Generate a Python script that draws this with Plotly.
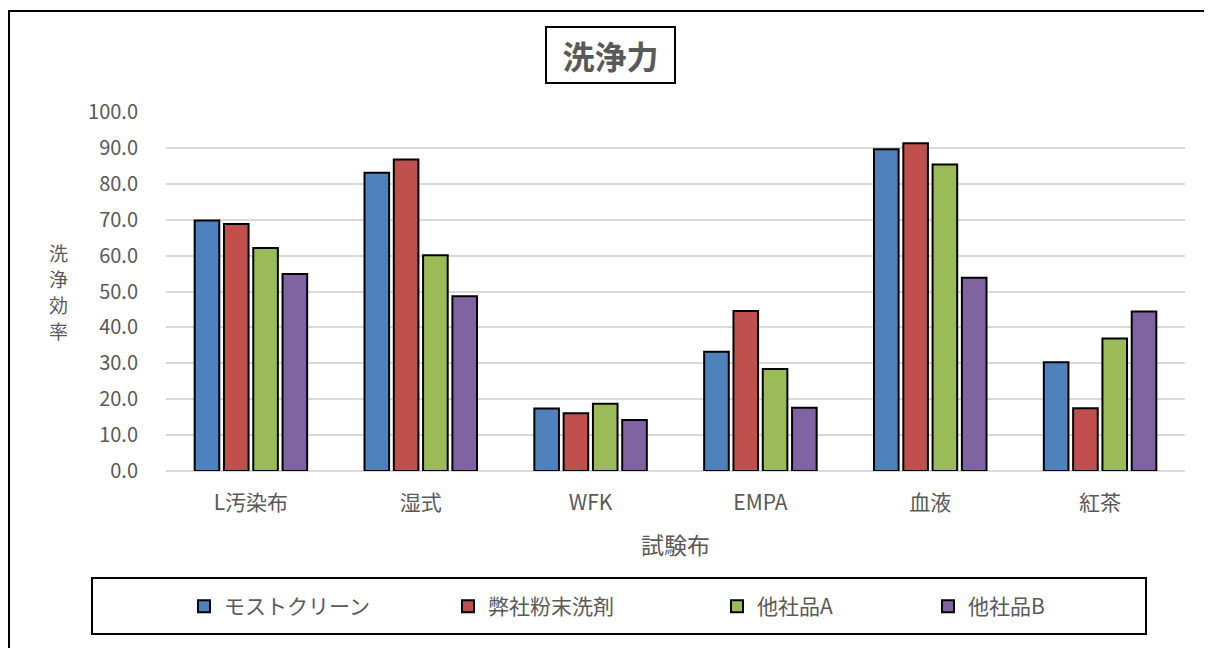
import plotly.graph_objects as go

categories = ["L汚染布", "湿式", "WFK", "EMPA", "血液", "紅茶"]
series_names = ["モストクリーン", "弊社粉末洗剤", "他社品A", "他社品B"]
most_clean = [69.8, 83.1, 17.4, 33.2, 89.6, 30.3]
heisha = [68.8, 86.8, 16.1, 44.6, 91.3, 17.5]
tasha_a = [62.1, 60.1, 18.7, 28.4, 85.4, 36.9]
tasha_b = [54.9, 48.7, 14.2, 17.6, 53.8, 44.4]
values = [most_clean, heisha, tasha_a, tasha_b]
colors = ["#4F81BD", "#C0504D", "#9BBB59", "#8064A2"]
y_ticks = [0, 10, 20, 30, 40, 50, 60, 70, 80, 90, 100]

# page has an 8px body margin: figure pixel = page pixel - OFF
OFF = 8
W, H = 1204, 640
# plot area in page pixels
PX0, PX1, PY0, PY1 = 166, 1185, 112, 471
L = PX0 - OFF
R = W - (PX1 - OFF)
T = PY0 - OFF
B = H - (PY1 - OFF)
pw = PX1 - PX0
ph = PY1 - PY0


def px(x):
    return (x - PX0) / pw


def py(y):
    return (PY1 - y) / ph


FONT = "Noto Sans CJK JP, Noto Sans, sans-serif"
GREY = "#595959"

legend_names = ["legend", "legend2", "legend3", "legend4"]
legend_square_x = [205, 469, 738, 949]

fig = go.Figure()
for name, vals, col, lg in zip(series_names, values, colors, legend_names):
    fig.add_trace(go.Bar(
        name=name, x=categories, y=vals, legend=lg,
        marker=dict(color=col, line=dict(color="black", width=2)),
    ))

legend_layouts = {}
for lg, sx in zip(legend_names, legend_square_x):
    legend_layouts[lg] = dict(
        orientation="h", xref="container", yref="container",
        x=(sx - 21 - OFF) / W, y=1 - (606.5 - OFF) / H,
        xanchor="left", yanchor="middle",
        font=dict(size=21, color=GREY, family=FONT),
        itemwidth=30, borderwidth=0, bgcolor="rgba(0,0,0,0)",
    )

fig.update_layout(
    width=W, height=H,
    margin=dict(l=L, r=R, t=T, b=B, pad=0),
    paper_bgcolor="white", plot_bgcolor="white",
    barmode="group", bargap=0.31, bargroupgap=0.16,
    font=dict(family=FONT, color=GREY, size=18),
    showlegend=True,
    xaxis=dict(
        showgrid=False, showline=False, ticks="",
        tickfont=dict(size=21, color=GREY),
        ticklabelstandoff=17,
    ),
    yaxis=dict(
        range=[0, 100], tickvals=y_ticks, tickformat=".1f",
        showgrid=True, gridcolor="#D9D9D9", gridwidth=2,
        zeroline=True, zerolinecolor="#D9D9D9", zerolinewidth=2,
        showline=False, ticks="", ticklabelstandoff=27,
        tickfont=dict(size=20, color=GREY),
    ),
    **legend_layouts,
)

# outer chart border
fig.add_shape(type="rect", xref="paper", yref="paper",
              x0=px(9), x1=px(1240), y0=py(11), y1=py(700),
              line=dict(color="black", width=2), layer="above")
# legend border
fig.add_shape(type="rect", xref="paper", yref="paper",
              x0=px(92), x1=px(1146), y0=py(578), y1=py(634),
              line=dict(color="black", width=2), layer="above")

# title
fig.add_annotation(text="<b>洗浄力</b>", xref="paper", yref="paper",
                   x=px(610.5), y=py(55), xanchor="center", yanchor="middle",
                   showarrow=False, width=113, height=40, borderpad=7,
                   font=dict(size=32, color=GREY, family=FONT),
                   bordercolor="black", borderwidth=2, bgcolor="white")
# y title, stacked vertically
for i, ch in enumerate("洗浄効率"):
    fig.add_annotation(text=ch, xref="paper", yref="paper",
                       x=px(58), y=py(252.5 + i * 26),
                       xanchor="center", yanchor="middle", showarrow=False,
                       font=dict(size=19, color=GREY, family=FONT))
# x title
fig.add_annotation(text="試験布", xref="paper", yref="paper",
                   x=px(675), y=py(544), xanchor="center", yanchor="middle",
                   showarrow=False,
                   font=dict(size=23, color=GREY, family=FONT))

fig.write_html("out.html")
